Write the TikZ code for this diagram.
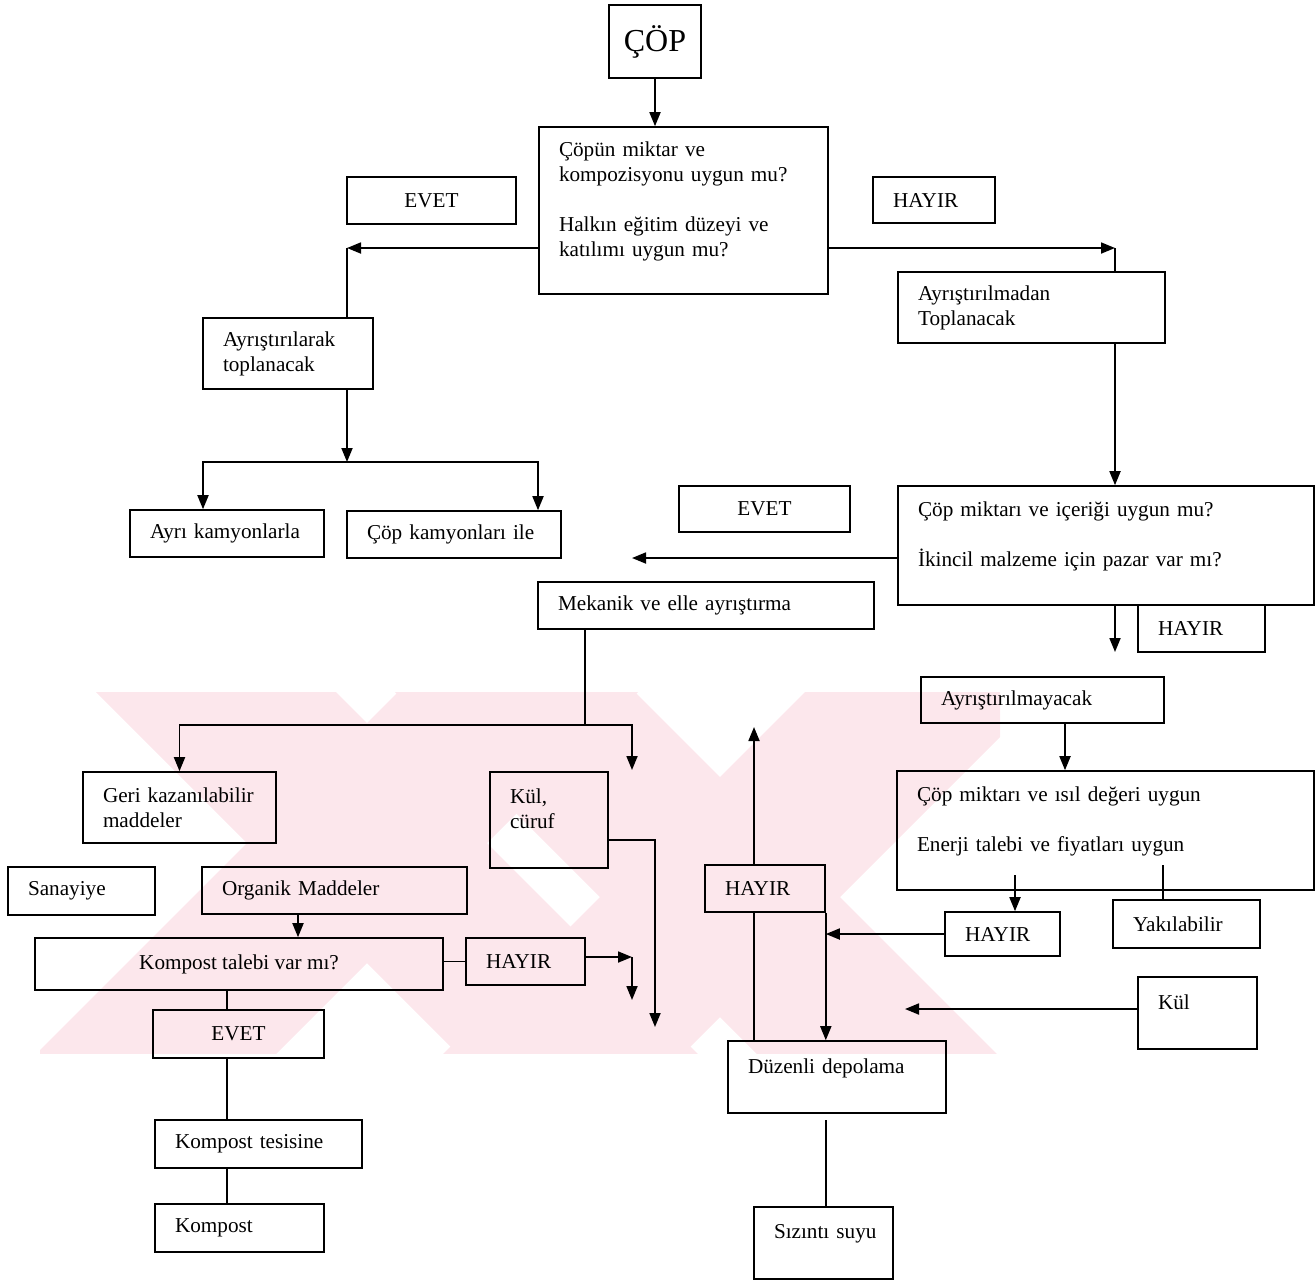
\documentclass[tikz,border=0pt]{standalone}
\usepackage{fontspec}
\setmainfont{Liberation Serif}
\usepackage{xcolor}
\usepackage{tikz}
\usetikzlibrary{arrows.meta}
\definecolor{wmpink}{RGB}{252,231,236}

\begin{document}
\begin{tikzpicture}[x=0.5pt, y=-0.5pt,
  box/.style={draw, line width=0.8pt, inner xsep=10pt, inner ysep=2pt, align=left,
    font=\fontsize{10.6pt}{12.5pt}\selectfont},
  cbox/.style={box, align=center},
  arr/.style={line width=0.9pt, -{Triangle[length=7pt,width=5.5pt]}},
  ln/.style={line width=0.9pt}]
\useasboundingbox (0,0) rectangle (1316,1281);
% watermark in the background
\begin{scope}
\clip (40,692) rectangle (1000,1053);
\foreach \cx/\cy in {367/843, 720/897} {
  \fill[wmpink] (\cx-520,\cy-400) -- (\cx-280,\cy-400) -- (\cx+520,\cy+400) -- (\cx+280,\cy+400) -- cycle;
  \fill[wmpink] (\cx+280,\cy-400) -- (\cx+520,\cy-400) -- (\cx-280,\cy+400) -- (\cx-520,\cy+400) -- cycle;
}
\end{scope}
% top: question 1
\node[box, minimum width=46pt, minimum height=36.5pt, align=center, inner xsep=0pt,
  font=\fontsize{16pt}{19pt}\selectfont] (cop) at (655,41.5) {ÇÖP};
\node[box, text width=124.5pt, minimum height=83.5pt] (soru1) at (683.5,210.5)
  {Çöpün miktar ve\\kompozisyonu uygun mu?\\\strut\\Halkın eğitim düzeyi ve\\katılımı uygun mu?\\[-5pt]\strut};
\node[cbox, minimum width=84.5pt, minimum height=23.5pt] (evet1) at (431.5,200.5) {EVET};
\node[box, text width=41pt, minimum height=23pt] (hayir1) at (934,200) {HAYIR};
% left branch
\node[box, text width=65pt, minimum height=35.5pt] (ayristir) at (288,353.5) {Ayrıştırılarak\\toplanacak};
\node[box, text width=77pt, minimum height=23.5pt] (kamyon1) at (227,533.5) {\mbox{Ayrı kamyonlarla}};
\node[box, text width=87pt, minimum height=23.5pt] (kamyon2) at (454,534.5) {\mbox{Çöp kamyonları ile}};
% right branch
\node[box, text width=113.5pt, minimum height=35.5pt] (ayristirma) at (1031.5,307.5) {Ayrıştırılmadan\\Toplanacak};
\node[cbox, minimum width=85.5pt, minimum height=23pt] (evet2) at (764.5,509) {EVET};
\node[box, text width=188pt, minimum height=59.5pt] (soru2) at (1106,545.5)
  {Çöp miktarı ve içeriği uygun mu?\\\strut\\İkincil malzeme için pazar var mı?\\[-5pt]\strut};
\node[box, text width=148pt, minimum height=23.5pt] (mekanik) at (706,605.5) {Mekanik ve elle ayrıştırma};
\node[box, text width=43.5pt, minimum height=23.5pt] (hayir2) at (1201.5,628.5) {HAYIR};
\node[box, text width=101.5pt, minimum height=23pt] (ayrmayacak) at (1042.5,700) {Ayrıştırılmayacak};
\node[box, text width=188.5pt, minimum height=59.5pt] (soru3) at (1105.5,830.5)
  {Çöp miktarı ve ısıl değeri uygun\\\strut\\Enerji talebi ve fiyatları uygun\\[-5pt]\strut};
% sorting outputs
\node[box, text width=76.5pt, minimum height=35.5pt] (geri) at (179.5,807.5) {\mbox{Geri kazanılabilir}\\maddeler};
\node[box, text width=39pt, minimum height=48pt] (kul1) at (549,820) {Kül,\\cüruf\\[-5pt]\strut};
\node[box, text width=53.5pt, minimum height=24pt] (sanayi) at (81.5,891) {Sanayiye};
\node[box, text width=112.5pt, minimum height=23.5pt] (organik) at (334.5,890.5) {Organik Maddeler};
\node[cbox, minimum width=204pt, minimum height=26pt] (talep) at (239,964) {Kompost talebi var mı?};
\node[box, text width=39.5pt, minimum height=23.5pt] (hayir3) at (525.5,961.5) {HAYIR};
\node[cbox, minimum width=85.5pt, minimum height=24pt] (evet3) at (238.5,1034) {EVET};
\node[box, text width=83.5pt, minimum height=24pt] (tesis) at (258.5,1144) {Kompost tesisine};
\node[box, text width=64.5pt, minimum height=24pt] (kompost) at (239.5,1228) {Kompost};
% landfill
\node[box, text width=40pt, minimum height=23.5pt] (hayir4) at (765,888.5) {HAYIR};
\node[box, text width=37.5pt, minimum height=22pt] (hayir5) at (1002.5,934) {HAYIR};
\node[box, text width=53.5pt, minimum height=24pt] (yakil) at (1186.5,924) {Yakılabilir};
\node[box, text width=39.5pt, minimum height=36pt] (kul2) at (1197.5,1013) {Kül\\[-5pt]\strut};
\node[box, text width=89pt, minimum height=36pt] (depo) at (837,1077) {Düzenli depolama\\[-5pt]\strut};
\node[box, text width=49.5pt, minimum height=36pt] (sizinti) at (823.5,1243) {\mbox{Sızıntı suyu}\\[-5pt]\strut};
% turning points and free ends
\coordinate (evetDon) at (347,248);
\coordinate (hayirDon) at (1115,248);
\coordinate (ayirma) at (347,462);
\coordinate (evetUc) at (632,558);
\coordinate (hayirUc) at (1115,652);
\coordinate (sutunA) at (1065,0);
\coordinate (mekDon) at (585,725);
\coordinate (kulUc) at (632,770);
\coordinate (curufDon) at (655,840);
\coordinate (curufUc) at (655,1027);
\coordinate (sutunB) at (298,0);
\coordinate (sutunK) at (227,0);
\coordinate (hayir3Don) at (632,957);
\coordinate (hayir3Uc) at (632,1000);
\coordinate (depoUc) at (754,727);
\coordinate (hayir5Bas) at (1015,875);
\coordinate (yakilBas) at (1163,865);
\coordinate (kul2Uc) at (905,1009);
\coordinate (depoAlt) at (826,1120);
% connectors
\draw[arr] (cop.south) -- (cop.south |- soru1.north);
\draw[arr] (soru1.west |- evetDon) -- (evetDon);
\draw[ln] (evetDon) -- (evetDon |- ayristir.north);
\draw[arr] (evetDon |- ayristir.south) -- (ayirma);
\draw[arr] (ayirma) -| ([xshift=-12pt]kamyon1.north);
\draw[arr] (ayirma) -| ([xshift=42pt]kamyon2.north);
\draw[arr] (soru1.east |- hayirDon) -- (hayirDon);
\draw[ln] (hayirDon) -- (hayirDon |- ayristirma.north);
\draw[arr] (hayirDon |- ayristirma.south) -- (hayirDon |- soru2.north);
\draw[arr] (soru2.west |- evetUc) -- (evetUc);
\draw[arr] (hayirUc |- soru2.south) -- (hayirUc);
\draw[arr] (ayrmayacak.south -| sutunA) -- (soru3.north -| sutunA);
\draw[ln] (mekanik.south -| mekDon) -- (mekDon);
\draw[arr] (mekDon) -| (geri.north);
\draw[arr] (mekDon) -| (kulUc);
\draw[arr] (kul1.east |- curufDon) -- (curufDon) -- (curufUc);
\draw[arr] (organik.south -| sutunB) -- (talep.north -| sutunB);
\draw[ln] (talep.east |- hayir3.west) -- (hayir3.west);
\draw[arr] (hayir3.east |- hayir3Don) -- (hayir3Don);
\draw[arr] (hayir3Don) -- (hayir3Uc);
\draw[ln] (talep.south -| sutunK) -- (evet3.north -| sutunK);
\draw[ln] (evet3.south -| sutunK) -- (tesis.north -| sutunK);
\draw[ln] (tesis.south -| sutunK) -- (kompost.north -| sutunK);
\draw[ln] (depo.north -| depoUc) -- (hayir4.south -| depoUc);
\draw[arr] (hayir4.north -| depoUc) -- (depoUc);
\draw[arr] (hayir4.south east) -- (hayir4.south east |- depo.north);
\draw[arr] (hayir5Bas) -- (hayir5Bas |- hayir5.north);
\draw[ln] (yakilBas) -- (yakilBas |- yakil.north);
\draw[arr] (hayir5.west) -- (hayir5.west -| hayir4.east);
\draw[arr] (kul2.west |- kul2Uc) -- (kul2Uc);
\draw[ln] (depoAlt) -- (depoAlt |- sizinti.north);
\end{tikzpicture}
\end{document}
